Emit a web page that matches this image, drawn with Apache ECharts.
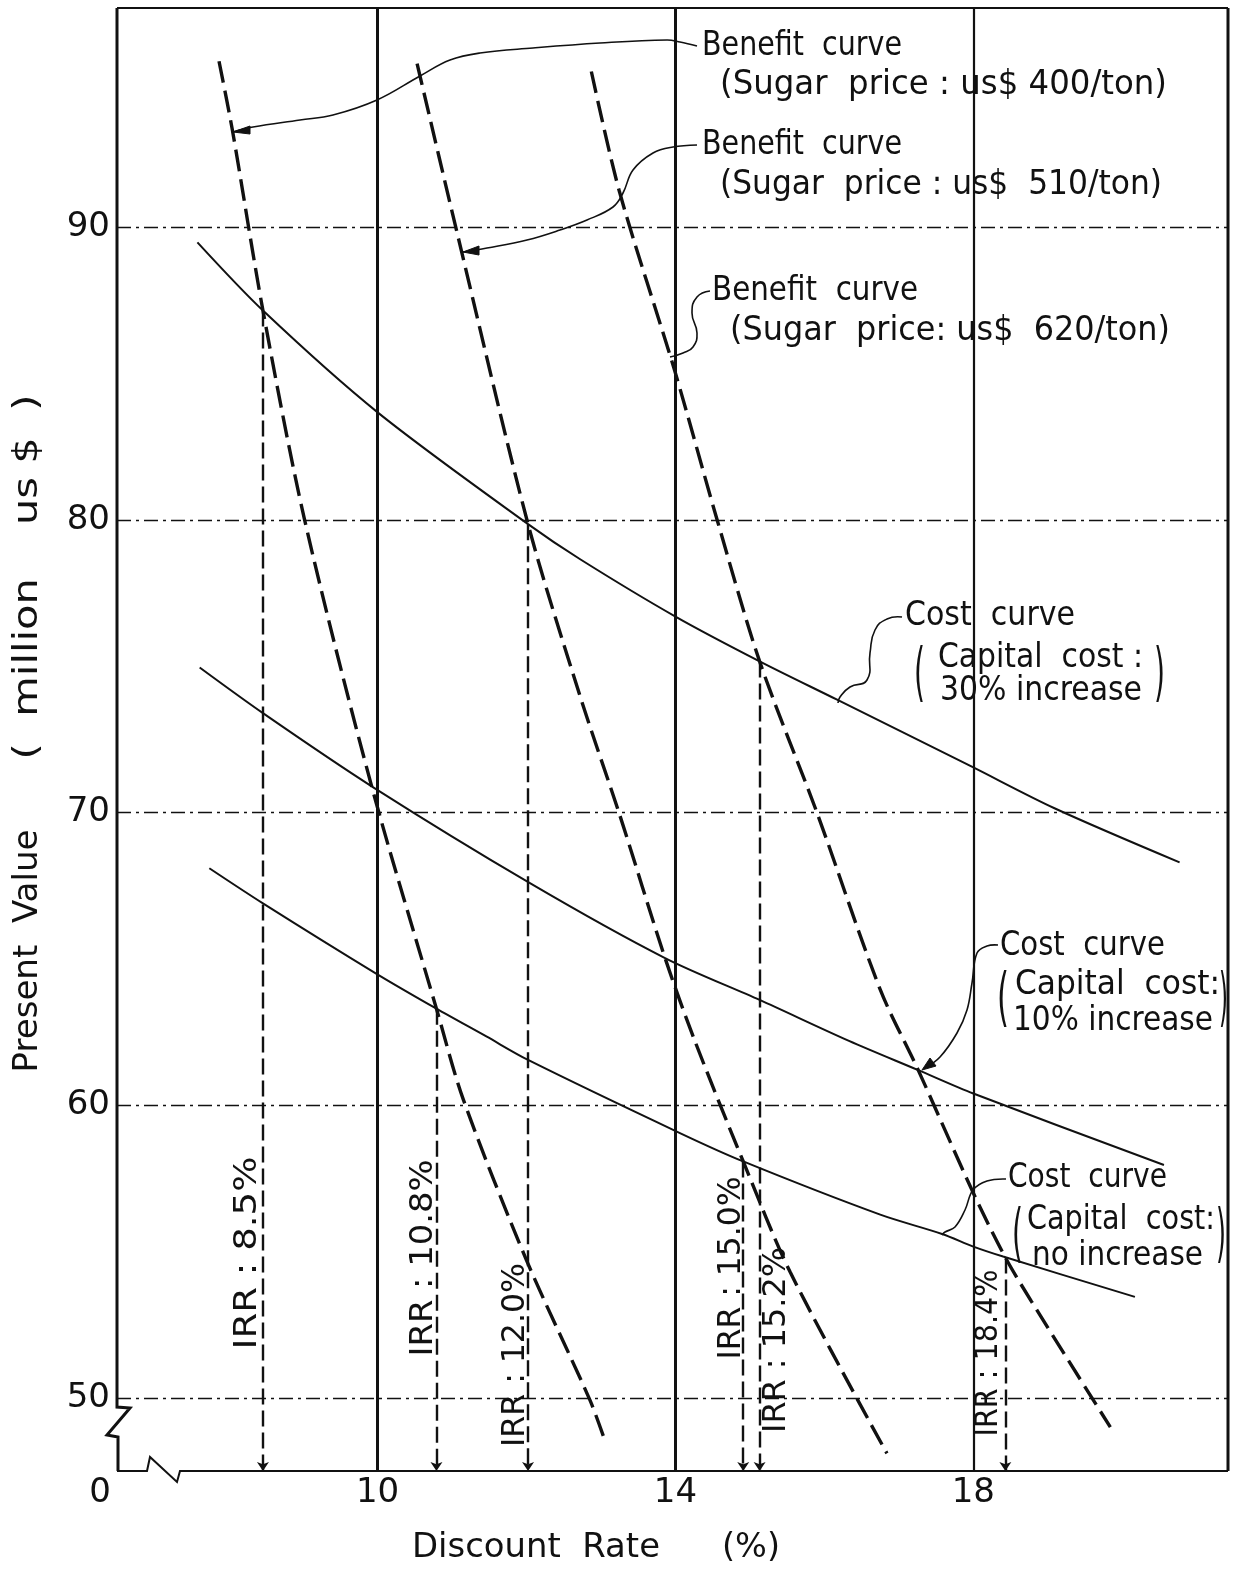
<!DOCTYPE html>
<html><head><meta charset="utf-8">
<script src="https://cdn.jsdelivr.net/npm/echarts@6/dist/echarts.min.js"></script>
<style>html,body{margin:0;padding:0;background:#fff}#c{width:1237px;height:1572px}</style>
</head><body><div id="c"></div>
<script>
// ---- data ----
const xTickValues = [10, 14, 18];
const yTickValues = [50, 60, 70, 80, 90];
const benefit400 = [[7.87,95.68],[8.05,93.32],[8.46,87.16],[9.02,80.0],[9.92,70.9],[10.79,63.3],[11.15,60.2],[12.0,54.7],[12.85,49.93],[13.04,48.63]];
const benefit510 = [[10.53,95.6],[11.05,90.0],[12.02,79.86],[12.72,73.97],[13.25,69.93],[13.86,65.03],[14.26,62.2],[14.91,58.08],[15.54,54.3],[16.84,48.1]];
const benefit620 = [[12.87,95.33],[13.25,91.2],[13.99,85.1],[14.56,80.0],[15.13,75.17],[15.9,70.0],[16.75,63.95],[17.26,61.2],[18.0,57.0],[18.43,54.8],[18.78,53.3],[19.84,49.0]];
const cost30 = [[7.58,89.49],[8.46,87.16],[10.0,83.68],[12.02,79.86],[12.72,78.66],[14.0,76.7],[15.13,75.17],[16.17,73.86],[17.98,71.57],[19.09,70.15],[20.77,68.3]];
const cost10 = [[7.61,74.96],[8.46,73.4],[9.92,70.9],[12.04,67.6],[13.86,65.03],[15.13,63.6],[16.33,62.2],[17.26,61.2],[18.0,60.4],[20.56,57.96]];
const cost0 = [[7.74,68.1],[8.46,66.9],[9.98,64.5],[10.79,63.3],[11.46,62.35],[12.02,61.55],[14.06,59.05],[14.91,58.08],[16.75,56.26],[17.58,55.6],[18.0,55.17],[18.4,54.83],[20.17,53.45]];
const irrLabels = ['IRR : 8.5%','IRR : 10.8%','IRR : 12.0%','IRR : 15.0%','IRR : 15.2%','IRR : 18.4%'];
const irrX = [8.46, 10.79, 12.02, 14.91, 15.13, 18.43];
const irrTop = [87.16, 63.3, 79.86, 58.08, 75.17, 54.8];

const FONTNAME = '"DejaVu Sans"';
const FONT = FONTNAME + ', sans-serif';
const INK = '#111';
const chart = echarts.init(document.getElementById('c'), null, {renderer:'canvas'});

const mctx = document.createElement('canvas').getContext('2d');
function measure(s, size) { mctx.font = size + 'px ' + FONTNAME; return mctx.measureText(s).width; }
// text fitted to a target length
function FT(x, y, s, size, targetW, opts) {
  opts = opts || {};
  const sx = targetW ? targetW / measure(s, size) : 1;
  return {type:'text', x:x, y:y, scaleX:sx, rotation: opts.rot || 0, silent:true, z:50,
    style:{text:s, fontSize:size, fontFamily:FONT, fill:INK, align: opts.align || 'left', verticalAlign:'middle'}};
}
function PL(pts, w, smooth) {
  return {type:'polyline', silent:true, z:40, shape:{points:pts, smooth: smooth||0},
    style:{stroke:INK, lineWidth:w, fill:null}};
}
function TRI(pts) {
  return {type:'polygon', silent:true, z:41, shape:{points:pts}, style:{fill:INK, stroke:INK, lineWidth:1}};
}

const curveSeries = (name, data, dashed) => ({
  name, type:'line', data, showSymbol:false, symbol:'none', smooth:0.3,
  silent:true, z:10,
  lineStyle: dashed ? {color:INK, width:3.4, type:[22,8]} : {color:INK, width:2}
});

const s0 = curveSeries('Cost curve (no increase)', cost0, false);
s0.markLine = { silent:true, symbol:['none','none'], animation:false, label:{show:false},
  lineStyle:{color:INK, width:1.3, type:[14,5,3,5]},
  data: yTickValues.map(v => ({yAxis:v})) };
const s1 = curveSeries('Cost curve (10% increase)', cost10, false);
s1.markLine = { silent:true, symbol:['none','none'], animation:false, label:{show:false},
  lineStyle:{color:INK, width:3, type:'solid'},
  data: xTickValues.map(v => ({xAxis:v, lineStyle:{width: v===18 ? 2.2 : 3}})) };
const s2 = curveSeries('Cost curve (30% increase)', cost30, false);
s2.markLine = { silent:true, symbol:['none','arrow'], symbolSize:9, animation:false, label:{show:false},
  lineStyle:{color:INK, width:2.4, type:[16,6]},
  data: irrX.map((x,i) => [{coord:[x, irrTop[i]]},{coord:[x, 47.5]}]) };

const option = {
  animation:false,
  backgroundColor:'#fff',
  grid:{left:117, right:9, top:8, bottom:101, containLabel:false, outerBoundsMode:'none'},
  xAxis:{type:'value', min:6.5, max:21.42,
    axisLine:{show:false}, axisTick:{show:false}, splitLine:{show:false},
    axisLabel:{customValues:[6.5].concat(xTickValues), fontSize:34, fontFamily:FONT, color:INK, margin:5,
      formatter: v => (Math.abs(v-6.5)<1e-6 ? '{z|0}' : String(v)),
      rich:{z:{fontSize:34, fontFamily:FONT, color:INK, padding:[0,34,0,0]}}}},
  yAxis:{type:'value', min:47.5, max:97.5,
    axisLine:{show:false}, axisTick:{show:false}, splitLine:{show:false},
    axisLabel:{customValues:yTickValues, fontSize:34, fontFamily:FONT, color:INK, margin:7}},
  series:[
    s0, s1, s2,
    curveSeries('Benefit curve (US$ 400/ton)', benefit400, true),
    curveSeries('Benefit curve (US$ 510/ton)', benefit510, true),
    curveSeries('Benefit curve (US$ 620/ton)', benefit620, true)
  ],
  graphic:[]
};
chart.setOption(option);

// ---- frame with axis breaks, axis titles & annotations ----
const g = [];
g.push(PL([[117,8],[1228,8]], 2));
g.push(PL([[1228,8],[1228,1471]], 3));
g.push(PL([[117,8],[117,1407],[130,1408],[107,1435],[118,1437],[118,1471]], 3));
g.push(PL([[117,1471],[147,1471],[150,1457],[177,1482],[180,1471],[1228,1471]], 2));

// axis titles
g.push(FT(28, 951, 'Present  Value', 33, 243, {rot:Math.PI/2, align:'center'}));
g.push(FT(28, 577, '(  million    us $  )', 33, 365, {rot:Math.PI/2, align:'center'}));
g.push(FT(412, 1548, 'Discount  Rate', 33, 248));
g.push(FT(722, 1548, '(%)', 33, 58));

// IRR labels (rotated)
const irrPos = [[248,1253],[424,1258],[516,1355],[732,1268],[777,1340],[989,1353]];
const irrLen = [193, 197, 184, 183, 186, 167];
irrLabels.forEach((s,i) => g.push(FT(irrPos[i][0], irrPos[i][1], s, 32, irrLen[i], {rot:Math.PI/2, align:'center'})));

// Benefit labels
g.push(FT(702, 46, 'Benefit  curve', 33, 200));
g.push(FT(720, 85, '(Sugar  price : us$ 400/ton)', 33, 447));
g.push(FT(702, 145, 'Benefit  curve', 33, 200));
g.push(FT(720, 185, '(Sugar  price : us$  510/ton)', 33, 442));
g.push(FT(712, 291, 'Benefit  curve', 33, 206));
g.push(FT(730, 331, '(Sugar  price: us$  620/ton)', 33, 440));
// Cost labels
g.push(FT(905, 616, 'Cost  curve', 33, 170));
g.push(FT(938, 658, 'Capital  cost :', 33, 205));
g.push(FT(940, 691, '30% increase', 33, 202));
g.push(FT(914, 677, '(', 64, 11));
g.push(FT(1154, 677, ')', 64, 11));
g.push(FT(1000, 946, 'Cost  curve', 33, 165));
g.push(FT(1015, 985, 'Capital  cost:', 33, 205));
g.push(FT(1013, 1021, '10% increase', 33, 200));
g.push(FT(997, 1002, '(', 64, 12));
g.push(FT(1219, 1002, ')', 64, 9));
g.push(FT(1008, 1178, 'Cost  curve', 33, 159));
g.push(FT(1027, 1220, 'Capital  cost:', 33, 188));
g.push(FT(1032, 1256, 'no increase', 33, 171));
g.push(FT(1012, 1238, '(', 64, 11));
g.push(FT(1216, 1238, ')', 64, 10));

// connectors
g.push(PL([[233,132],[253,127],[300,120],[333,115],[377,100],[420,76],[450,60],[480,53],[533,48],[600,43],[667,40],[680,42],[697,46]], 1.6, 0.4));
g.push(TRI([[233,132],[250,126],[250,134]]));
g.push(PL([[463,252],[487,248],[527,240],[560,230],[587,220],[613,207],[623,193],[633,170],[653,153],[673,147],[697,145]], 1.6, 0.4));
g.push(TRI([[463,252],[479,246],[479,255]]));
g.push(PL([[670,357],[683,353],[693,347],[697,333],[692,313],[697,297],[710,291]], 1.6, 0.5));
g.push(PL([[838,703],[840,697],[850,687],[867,680],[870,653],[875,630],[887,619],[902,617]], 1.6, 0.5));
g.push(PL([[925,1068],[940,1057],[957,1033],[967,1010],[972,983],[977,953],[987,946],[998,945]], 1.6, 0.4));
g.push(TRI([[922,1070],[930,1058],[936,1066]]));
g.push(PL([[942,1235],[945,1232],[955,1227],[965,1210],[973,1190],[987,1181],[1006,1179]], 1.6, 0.4));

chart.setOption({graphic:g});
</script></body></html>
